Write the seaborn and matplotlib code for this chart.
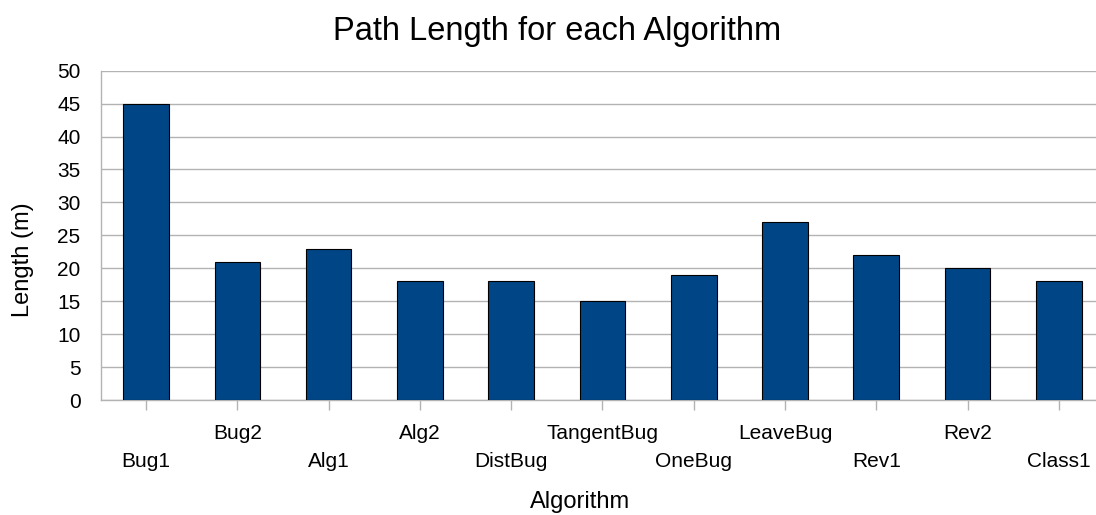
import matplotlib
matplotlib.use("Agg")
import matplotlib.pyplot as plt
import seaborn as sns
import pandas as pd

# Path length measured for each bug algorithm
algorithms = ["Bug1", "Bug2", "Alg1", "Alg2", "DistBug", "TangentBug",
              "OneBug", "LeaveBug", "Rev1", "Rev2", "Class1"]
lengths = [45, 21, 23, 18, 18, 15, 19, 27, 22, 20, 18]
y_ticks = [0, 5, 10, 15, 20, 25, 30, 35, 40, 45, 50]

df = pd.DataFrame({"Algorithm": algorithms, "Length": lengths})

sns.set_style("white")
plt.rcParams["font.family"] = ["Liberation Sans", "DejaVu Sans"]
plt.rcParams["text.color"] = "black"

BAR = "#004586"
GRID = "#b3b3b3"

fig = plt.figure(figsize=(10.96, 5.15), dpi=100)
ax = fig.add_axes([0.0917, 0.2233, 0.916, 0.6394])

sns.barplot(data=df, x="Algorithm", y="Length", color=BAR, saturation=1,
            width=0.5, edgecolor="black", linewidth=0.8, ax=ax, zorder=3)

ax.set_xlim(-0.5, len(algorithms) - 0.5)
ax.set_ylim(0, 50)
ax.set_yticks(y_ticks)
ax.yaxis.grid(True, color=GRID, linewidth=1.0, zorder=0)
ax.set_axisbelow(True)

for side in ["top", "right"]:
    ax.spines[side].set_visible(False)
for side in ["left", "bottom"]:
    ax.spines[side].set_color(GRID)
    ax.spines[side].set_linewidth(1.0)

ax.tick_params(axis="both", direction="out", length=7.2, width=1.0,
               color=GRID, labelsize=15, labelcolor="black")
ax.tick_params(axis="y", pad=7.2)
ax.tick_params(axis="x", bottom=True)

# Alternate category labels between two rows
for i, tick in enumerate(ax.xaxis.get_major_ticks()):
    tick.set_pad(30 if i % 2 == 0 else 10)

ax.set_xlabel("")
ax.set_ylabel("")

fig.text(557 / 1096, 1 - 40 / 515, "Path Length for each Algorithm",
         ha="center", va="baseline", fontsize=23.5, color="black")
fig.text(580 / 1096, 1 - 508 / 515, "Algorithm",
         ha="center", va="baseline", fontsize=17, color="black")
fig.text(23 / 1096, 1 - 260 / 515, "Length (m)", rotation=90,
         ha="center", va="center", fontsize=17, color="black")

fig.savefig("out.png", dpi=100)
